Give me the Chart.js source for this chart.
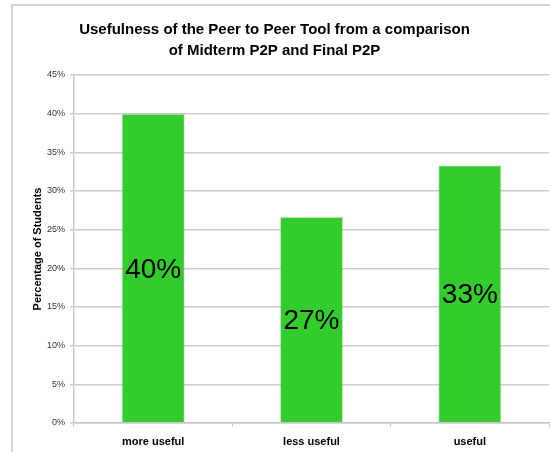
<!DOCTYPE html>
<html>
<head>
<meta charset="utf-8">
<script src="https://cdn.jsdelivr.net/npm/chart.js@4"></script>
<style>
  html, body { margin: 0; padding: 0; background: #fff; }
  #wrap { width: 550px; height: 452px; }
</style>
</head>
<body>
<div id="wrap"><canvas id="myChart" width="550" height="452"></canvas></div>
<script>
// Data
const categories = ['more useful', 'less useful', 'useful'];
const percentValues = [40, 26.67, 33.33];
const yTicks = [0, 5, 10, 15, 20, 25, 30, 35, 40, 45];

const FONT = "'Liberation Sans', Arial, sans-serif";
const ctx = document.getElementById('myChart').getContext('2d');

// Frame lines (left and top) like the original sheet
const framePlugin = {
    id: 'frame',
    beforeDraw(chart) {
        const c = chart.ctx;
        c.save();
        c.strokeStyle = '#c8c8c8';
        c.lineWidth = 1.5;
        c.beginPath();
        c.moveTo(12, 452);
        c.lineTo(12, 5);
        c.lineTo(550, 5);
        c.stroke();
        c.restore();
    }
};

// Percent labels inside the bars
const barLabels = {
    id: 'barLabels',
    afterDatasetsDraw(chart) {
        const c = chart.ctx;
        const meta = chart.getDatasetMeta(0);
        c.save();
        c.font = '28px ' + FONT;
        c.fillStyle = '#000';
        c.textAlign = 'center';
        c.textBaseline = 'middle';
        meta.data.forEach((bar, i) => {
            const v = chart.data.datasets[0].data[i];
            c.fillText(Math.round(v) + '%', bar.x, (bar.y + bar.base) / 2 + 2);
        });
        c.restore();
    }
};

new Chart(ctx, {
    type: 'bar',
    data: {
        labels: categories,
        datasets: [{
            data: percentValues,
            backgroundColor: '#32cd2d',
            borderColor: 'rgba(150,150,150,0.25)',
            borderWidth: 1,
            barPercentage: 0.4,
            categoryPercentage: 1.0
        }]
    },
    options: {
        responsive: false,
        animation: false,
        layout: { padding: { left: 0, right: 1, top: 0, bottom: 0 } },
        plugins: {
            legend: { display: false },
            tooltip: { enabled: false },
            title: {
                display: true,
                text: ['Usefulness of the Peer to Peer Tool from a comparison', 'of Midterm P2P and Final P2P'],
                color: '#000',
                font: { family: FONT, size: 15, weight: 'bold', lineHeight: 1.4 },
                padding: { top: 19, bottom: 14 }
            }
        },
        scales: {
            x: {
                grid: { drawOnChartArea: false, color: '#c8c8c8', tickLength: 4 },
                border: { color: '#c8c8c8', width: 1.5 },
                ticks: { color: '#000', font: { family: FONT, size: 11, weight: 'bold' }, padding: 8 },
                afterFit(scale) { scale.height = 29; }
            },
            y: {
                min: 0,
                max: 45,
                afterBuildTicks(scale) { scale.ticks = yTicks.map(v => ({ value: v })); },
                grid: { color: '#cccccc', lineWidth: 1.5, tickLength: 4 },
                border: { color: '#c8c8c8', width: 1.5 },
                ticks: {
                    color: '#333',
                    font: { family: FONT, size: 9 },
                    padding: 5,
                    callback: v => v + '%'
                },
                title: {
                    display: true,
                    text: 'Percentage of Students',
                    color: '#000',
                    font: { family: FONT, size: 11, weight: 'bold' },
                    padding: { top: 31, bottom: 0 }
                },
                afterFit(scale) { scale.width = 74; }
            }
        }
    },
    plugins: [framePlugin, barLabels]
});
</script>
</body>
</html>
